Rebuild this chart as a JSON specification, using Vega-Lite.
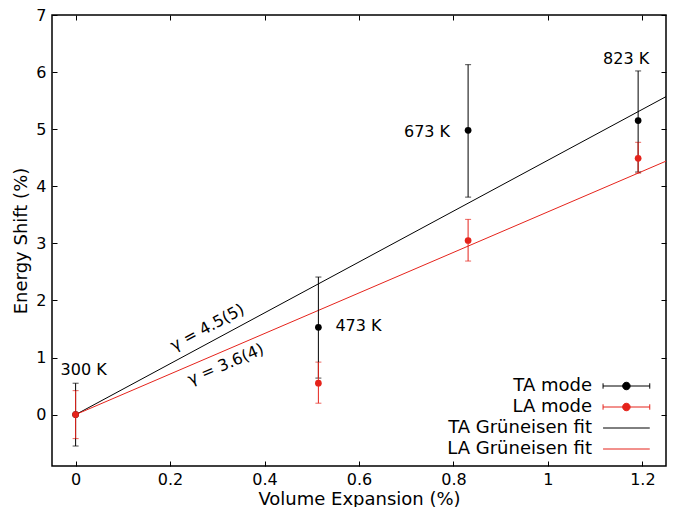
{
  "$schema": "https://vega.github.io/schema/vega-lite/v6.json",
  "width": 614,
  "height": 451,
  "autosize": {"type": "none"},
  "padding": {"left": 52, "top": 15, "right": 9, "bottom": 41},
  "datasets": {
    "pts": [
      {"series": "TA mode", "x": 0, "y": 0, "lo": -0.55, "hi": 0.55},
      {"series": "TA mode", "x": 0.514, "y": 1.53, "lo": 0.64, "hi": 2.41},
      {"series": "TA mode", "x": 0.831, "y": 4.98, "lo": 3.81, "hi": 6.13},
      {"series": "TA mode", "x": 1.191, "y": 5.15, "lo": 4.25, "hi": 6.02},
      {"series": "LA mode", "x": 0, "y": 0, "lo": -0.42, "hi": 0.42},
      {"series": "LA mode", "x": 0.514, "y": 0.55, "lo": 0.2, "hi": 0.92},
      {"series": "LA mode", "x": 0.831, "y": 3.05, "lo": 2.69, "hi": 3.42},
      {"series": "LA mode", "x": 1.191, "y": 4.49, "lo": 4.23, "hi": 4.77}
    ],
    "fit": [
      {"series": "TA Grüneisen fit", "x": 0, "y": 0},
      {"series": "TA Grüneisen fit", "x": 1.25, "y": 5.57},
      {"series": "LA Grüneisen fit", "x": 0, "y": 0},
      {"series": "LA Grüneisen fit", "x": 1.25, "y": 4.44}
    ],
    "temps": [
      {"label": "300 K", "x": 0, "y": 0},
      {"label": "473 K", "x": 0.514, "y": 1.53},
      {"label": "673 K", "x": 0.831, "y": 4.98},
      {"label": "823 K", "x": 1.191, "y": 5.15}
    ],
    "gamma": [
      {"label": "γ = 4.5(5)", "fit": "TA", "x": 0.293, "y": 1.31},
      {"label": "γ = 3.6(4)", "fit": "LA", "x": 0.307, "y": 1.09}
    ]
  },
  "layer": [
    {
      "data": {"name": "fit"},
      "mark": {"type": "line", "strokeWidth": 1, "clip": true},
      "encoding": {
        "x": {"field": "x", "type": "quantitative",
          "scale": {"domain": [-0.05, 1.25], "nice": false, "zero": false},
          "axis": {"orient": "bottom", "values": [0, 0.2, 0.4, 0.6, 0.8, 1, 1.2], "format": "~g", "title": "Volume Expansion (%)", "labelPadding": 10, "titlePadding": 3}},
        "y": {"field": "y", "type": "quantitative",
          "scale": {"domain": [-0.9, 7], "nice": false, "zero": false},
          "axis": {"orient": "left", "values": [0, 1, 2, 3, 4, 5, 6, 7], "title": "Energy Shift (%)", "labelPadding": 11, "titlePadding": 5}},
        "detail": {"field": "series"},
        "color": {"field": "series", "type": "nominal",
          "scale": {"domain": ["TA mode", "LA mode", "TA Grüneisen fit", "LA Grüneisen fit"], "range": ["#000000", "#e5231b", "#000000", "#e5231b"]},
          "legend": {
            "title": null,
            "orient": "none",
            "legendX": 551,
            "legendY": 360,
            "padding": 0,
            "offset": 0,
            "symbolSize": 100,
            "symbolStrokeWidth": 1,
            "symbolOpacity": 1,
            "rowPadding": 1,
            "labelFontSize": 18,
            "labelFont": "DejaVu Sans",
            "labelColor": "black",
            "labelAlign": "right",
            "labelLimit": 300,
            "encode": {
              "symbols": {"update": {
                "shape": {"signal": "(datum.value === 'TA mode' || datum.value === 'LA mode') ? 'M-4.67,0H4.67M-4.67,-0.54V0.54M4.67,-0.54V0.54M0.75,0A0.75,0.75,0,1,1,-0.75,0A0.75,0.75,0,1,1,0.75,0Z' : 'M-4.67,0H4.67'"},
                "fill": {"scale": "color", "field": "value"},
                "stroke": {"scale": "color", "field": "value"},
                "opacity": {"value": 1},
                "strokeWidth": {"value": 1},
                "x": {"value": 23.4},
                "y": {"value": 11}
              }},
              "labels": {"update": {"x": {"value": -11}, "y": {"value": 11}, "align": {"value": "right"}, "baseline": {"value": "middle"}}}
            }
          }
        }
      }
    },
    {
      "data": {"name": "pts"},
      "mark": {"type": "errorbar", "ticks": {"size": 6}, "thickness": 1},
      "encoding": {
        "x": {"field": "x", "type": "quantitative", "axis": null},
        "y": {"field": "lo", "type": "quantitative", "axis": null},
        "y2": {"field": "hi"},
        "color": {"field": "series", "type": "nominal"}
      }
    },
    {
      "data": {"name": "pts"},
      "mark": {"type": "point", "filled": true, "size": 45, "opacity": 1},
      "encoding": {
        "x": {"field": "x", "type": "quantitative",
          "axis": {"orient": "top", "labels": false, "title": null, "values": [0, 0.2, 0.4, 0.6, 0.8, 1, 1.2]}},
        "y": {"field": "y", "type": "quantitative",
          "axis": {"orient": "right", "labels": false, "title": null, "values": [0, 1, 2, 3, 4, 5, 6, 7]}},
        "color": {"field": "series", "type": "nominal"}
      }
    },
    {
      "data": {"name": "temps"},
      "transform": [{"filter": "datum.label === '300 K'"}],
      "mark": {"type": "text", "fontSize": 16, "dx": 8, "dy": -45, "align": "center", "baseline": "middle", "color": "black"},
      "encoding": {
        "x": {"field": "x", "type": "quantitative", "axis": null},
        "y": {"field": "y", "type": "quantitative", "axis": null},
        "text": {"field": "label"}
      }
    },
    {
      "data": {"name": "temps"},
      "transform": [{"filter": "datum.label === '473 K'"}],
      "mark": {"type": "text", "fontSize": 16, "dx": 17, "dy": -1, "align": "left", "baseline": "middle", "color": "black"},
      "encoding": {
        "x": {"field": "x", "type": "quantitative", "axis": null},
        "y": {"field": "y", "type": "quantitative", "axis": null},
        "text": {"field": "label"}
      }
    },
    {
      "data": {"name": "temps"},
      "transform": [{"filter": "datum.label === '673 K'"}],
      "mark": {"type": "text", "fontSize": 16, "dx": -18, "dy": 2, "align": "right", "baseline": "middle", "color": "black"},
      "encoding": {
        "x": {"field": "x", "type": "quantitative", "axis": null},
        "y": {"field": "y", "type": "quantitative", "axis": null},
        "text": {"field": "label"}
      }
    },
    {
      "data": {"name": "temps"},
      "transform": [{"filter": "datum.label === '823 K'"}],
      "mark": {"type": "text", "fontSize": 16, "dx": -12, "dy": -62, "align": "center", "baseline": "middle", "color": "black"},
      "encoding": {
        "x": {"field": "x", "type": "quantitative", "axis": null},
        "y": {"field": "y", "type": "quantitative", "axis": null},
        "text": {"field": "label"}
      }
    },
    {
      "data": {"name": "gamma"},
      "transform": [{"filter": "datum.fit === 'TA'"}],
      "mark": {"type": "text", "fontSize": 16, "angle": -28.3, "dy": -14, "align": "center", "baseline": "middle", "color": "black"},
      "encoding": {
        "x": {"field": "x", "type": "quantitative", "axis": null},
        "y": {"field": "y", "type": "quantitative", "axis": null},
        "text": {"field": "label"}
      }
    },
    {
      "data": {"name": "gamma"},
      "transform": [{"filter": "datum.fit === 'LA'"}],
      "mark": {"type": "text", "fontSize": 16, "angle": -23.2, "dy": 13, "align": "center", "baseline": "middle", "color": "black"},
      "encoding": {
        "x": {"field": "x", "type": "quantitative", "axis": null},
        "y": {"field": "y", "type": "quantitative", "axis": null},
        "text": {"field": "label"}
      }
    }
  ],
  "resolve": {"axis": {"x": "independent", "y": "independent"}},
  "config": {
    "font": "DejaVu Sans",
    "view": {"stroke": "black", "strokeWidth": 1.5},
    "axis": {
      "grid": false,
      "domain": false,
      "ticks": true,
      "tickColor": "black",
      "tickSize": -5,
      "tickWidth": 1,
      "labelColor": "black",
      "labelFontSize": 16,
      "labelFont": "DejaVu Sans",
      "titleFont": "DejaVu Sans",
      "titleFontSize": 18,
      "titleFontWeight": "normal",
      "titleColor": "black"
    },
    "text": {"font": "DejaVu Sans"}
  }
}
